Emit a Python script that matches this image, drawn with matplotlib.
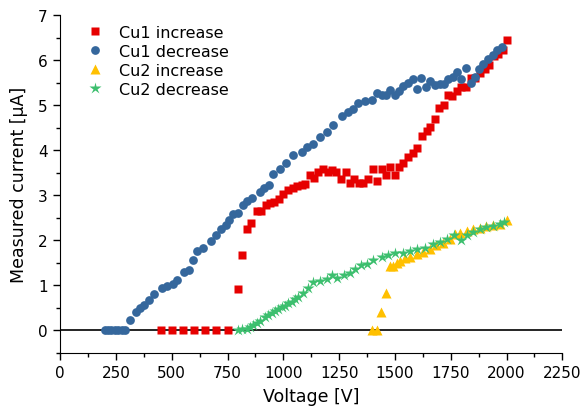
import numpy as np
import matplotlib
matplotlib.use('Agg')
import matplotlib.pyplot as plt
from matplotlib.ticker import MultipleLocator

# Cu1 increase
cu1_inc_v = [450, 500, 550, 600, 650, 700, 750, 797, 815, 838, 856, 880, 898, 920, 940, 959, 980,
             999, 1019, 1041, 1062, 1082, 1096, 1119, 1137, 1156, 1178, 1198, 1219, 1238, 1259,
             1279, 1298, 1317, 1338, 1358, 1380, 1400, 1420, 1440, 1458, 1479, 1498, 1519, 1537,
             1559, 1579, 1599, 1619, 1642, 1659, 1680, 1698, 1720, 1738, 1756, 1779, 1798, 1818,
             1839, 1858, 1880, 1903, 1922, 1943, 1962, 1982, 2000]
cu1_inc_i = [0, 0, 0, 0, 0, 0, 0, 0.92, 1.67, 2.25, 2.38, 2.65, 2.65, 2.78, 2.82, 2.86, 2.91,
             3.04, 3.11, 3.17, 3.21, 3.24, 3.25, 3.45, 3.39, 3.52, 3.59, 3.51, 3.56, 3.51, 3.36,
             3.51, 3.28, 3.37, 3.28, 3.28, 3.37, 3.58, 3.31, 3.59, 3.45, 3.62, 3.46, 3.62, 3.73,
             3.85, 3.95, 4.06, 4.31, 4.42, 4.51, 4.70, 4.95, 5.01, 5.24, 5.21, 5.33, 5.40, 5.40,
             5.61, 5.61, 5.72, 5.81, 5.90, 6.10, 6.14, 6.24, 6.46]

# Cu1 decrease
cu1_dec_v = [200, 215, 230, 245, 260, 275, 290, 315, 339, 357, 375, 396, 420, 456, 479, 504, 522,
             554, 575, 596, 614, 641, 674, 698, 721, 742, 757, 775, 797, 817, 838, 859, 895, 913,
             936, 954, 984, 1014, 1044, 1082, 1104, 1134, 1164, 1194, 1223, 1261, 1290, 1313,
             1335, 1365, 1395, 1418, 1440, 1459, 1477, 1500, 1519, 1537, 1559, 1579, 1597, 1617,
             1638, 1659, 1679, 1701, 1719, 1738, 1758, 1779, 1798, 1818, 1839, 1858, 1877, 1895,
             1918, 1937, 1955, 1978]
cu1_dec_i = [0, 0, 0, 0, 0, 0, 0, 0.23, 0.41, 0.50, 0.56, 0.67, 0.81, 0.93, 0.99, 1.02, 1.12,
             1.29, 1.33, 1.56, 1.76, 1.83, 1.98, 2.13, 2.26, 2.34, 2.45, 2.59, 2.61, 2.78, 2.87,
             2.94, 3.08, 3.17, 3.22, 3.48, 3.59, 3.71, 3.89, 3.96, 4.08, 4.15, 4.30, 4.41, 4.57,
             4.76, 4.85, 4.93, 5.06, 5.09, 5.13, 5.28, 5.24, 5.22, 5.35, 5.22, 5.31, 5.44, 5.50,
             5.59, 5.37, 5.61, 5.41, 5.55, 5.46, 5.48, 5.48, 5.59, 5.63, 5.75, 5.59, 5.83, 5.50,
             5.64, 5.80, 5.92, 6.02, 6.12, 6.22, 6.29]

# Cu2 increase
cu2_inc_v = [1395, 1418, 1438, 1458, 1477, 1492, 1507, 1522, 1544, 1567, 1597, 1626, 1656, 1686,
             1716, 1746, 1768, 1791, 1821, 1850, 1880, 1910, 1940, 1970, 2000]
cu2_inc_i = [0, 0, 0.41, 0.82, 1.44, 1.44, 1.49, 1.54, 1.60, 1.64, 1.69, 1.75, 1.80, 1.89,
             1.95, 2.04, 2.15, 2.17, 2.20, 2.25, 2.28, 2.31, 2.34, 2.37, 2.45]

# Cu2 decrease
cu2_dec_v = [797, 815, 835, 850, 865, 880, 895, 917, 932, 947, 962, 977, 992, 1007, 1022, 1037,
             1052, 1066, 1089, 1111, 1134, 1164, 1194, 1216, 1242, 1271, 1298, 1320, 1350, 1374,
             1402, 1440, 1470, 1500, 1537, 1567, 1597, 1634, 1671, 1701, 1731, 1764, 1798, 1821,
             1850, 1880, 1910, 1940, 1970, 1988]
cu2_dec_i = [0.0, 0.02, 0.04, 0.08, 0.12, 0.16, 0.21, 0.30, 0.34, 0.38, 0.43, 0.47, 0.51, 0.55,
             0.60, 0.64, 0.70, 0.75, 0.84, 0.93, 1.07, 1.10, 1.15, 1.22, 1.16, 1.22, 1.28, 1.37,
             1.45, 1.48, 1.57, 1.63, 1.67, 1.73, 1.73, 1.76, 1.80, 1.83, 1.93, 1.97, 2.02, 2.11,
             2.00, 2.13, 2.19, 2.25, 2.29, 2.32, 2.36, 2.40]

fig = plt.figure(figsize=(5.84, 4.10), dpi=100)
ax = fig.add_axes([0.103, 0.137, 0.860, 0.823])

ax.axhline(0, color='black', lw=1.2, zorder=1)
ax.plot(cu1_inc_v, cu1_inc_i, 's', color='#e60000', ms=5.5, mec='none', label='Cu1 increase')
ax.plot(cu1_dec_v, cu1_dec_i, 'o', color='#35679c', ms=6.3, mec='none', label='Cu1 decrease')
ax.plot(cu2_inc_v, cu2_inc_i, '^', color='#ffc000', ms=7.5, mec='none', label='Cu2 increase')
ax.plot(cu2_dec_v, cu2_dec_i, '*', color='#3cbf6e', ms=9, mec='none', label='Cu2 decrease')

ax.set_xlim(0, 2250)
ax.set_ylim(-0.5, 7)
ax.xaxis.set_major_locator(MultipleLocator(250))
ax.xaxis.set_minor_locator(MultipleLocator(125))
ax.yaxis.set_major_locator(MultipleLocator(1))
ax.yaxis.set_minor_locator(MultipleLocator(0.5))
ax.tick_params(which='major', length=5, width=1, labelsize=11, pad=4)
ax.tick_params(which='minor', length=3, width=1)
ax.spines['top'].set_visible(False)
ax.spines['right'].set_visible(False)

ax.set_xlabel('Voltage [V]', fontsize=12.5, labelpad=5)
ax.set_ylabel('Measured current [μA]', fontsize=12.5, labelpad=7)

ax.legend(loc='upper left', bbox_to_anchor=(0.025, 1.015), frameon=False, fontsize=11.5,
          numpoints=1, handlelength=1.0, handletextpad=1.0, labelspacing=0.25)

fig.savefig('out.png', dpi=100)
